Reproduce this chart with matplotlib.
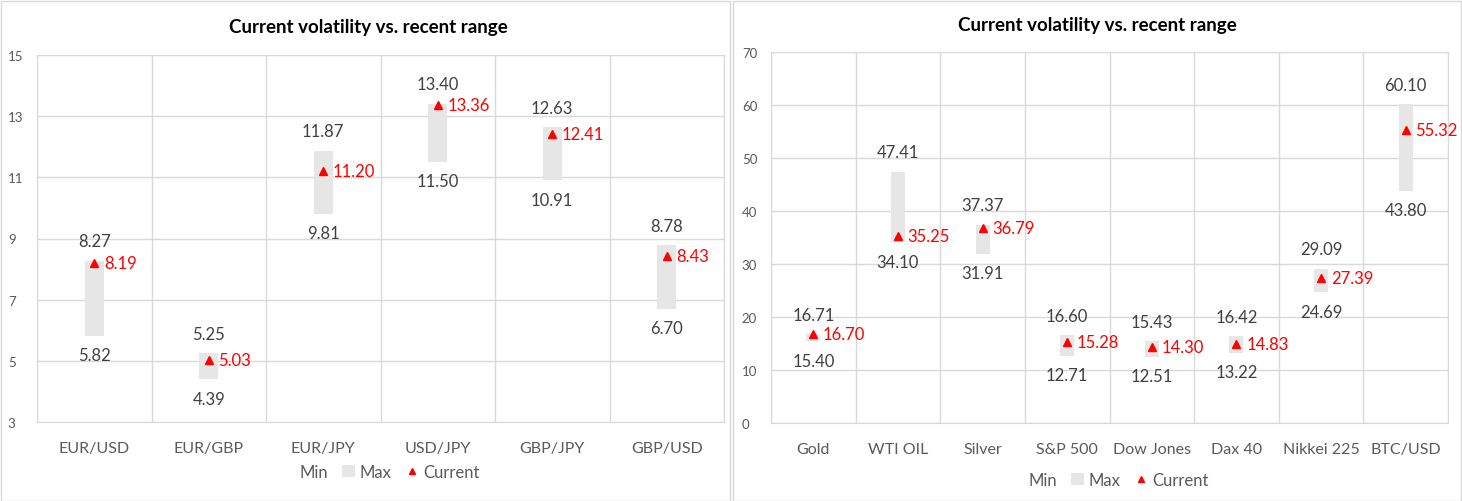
import numpy as np
import matplotlib
matplotlib.use("Agg")
import matplotlib.pyplot as plt
from matplotlib.patches import Patch, Rectangle
from matplotlib.lines import Line2D

plt.rcParams["font.family"] = ["Lato", "DejaVu Sans"]

# levi grafikon - valute
fx_cats = ["EUR/USD", "EUR/GBP", "EUR/JPY", "USD/JPY", "GBP/JPY", "GBP/USD"]
fx_min = [5.82, 4.39, 9.81, 11.50, 10.91, 6.70]
fx_max = [8.27, 5.25, 11.87, 13.40, 12.63, 8.78]
fx_cur = [8.19, 5.03, 11.20, 13.36, 12.41, 8.43]
fx_ticks = [3, 5, 7, 9, 11, 13, 15]

# desni grafikon - robe i indeksi
ot_cats = ["Gold", "WTI OIL", "Silver", "S&P 500", "Dow Jones", "Dax 40", "Nikkei 225", "BTC/USD"]
ot_min = [15.40, 34.10, 31.91, 12.71, 12.51, 13.22, 24.69, 43.80]
ot_max = [16.71, 47.41, 37.37, 16.60, 15.43, 16.42, 29.09, 60.10]
ot_cur = [16.70, 35.25, 36.79, 15.28, 14.30, 14.83, 27.39, 55.32]
ot_ticks = [0, 10, 20, 30, 40, 50, 60, 70]

BAR = "#E6E6E6"
GRID = "#D9D9D9"
TXT = "#404040"
AX_TXT = "#595959"
RED = "#FF0000"

W, H = 1462, 502
fig = plt.figure(figsize=(W / 100, H / 100), dpi=100)


def panel(rect, cats, mins, maxs, curs, ticks, legend_y):
    ax = fig.add_axes(rect)
    n = len(cats)
    x = np.arange(n)
    mins = np.array(mins); maxs = np.array(maxs); curs = np.array(curs)
    ax.bar(x, maxs - mins, bottom=mins, width=0.165, color=BAR, zorder=2)
    ax.plot(x, curs, linestyle="none", marker="^", color=RED, markersize=6, zorder=3)
    for i in range(n):
        ax.annotate(f"{maxs[i]:.2f}", (x[i], maxs[i]), xytext=(0, 14), textcoords="offset points",
                    ha="center", va="center", fontsize=12, color=TXT)
        ax.annotate(f"{mins[i]:.2f}", (x[i], mins[i]), xytext=(0, -14), textcoords="offset points",
                    ha="center", va="center", fontsize=12, color=TXT)
        ax.annotate(f"{curs[i]:.2f}", (x[i], curs[i]), xytext=(7, 0), textcoords="offset points",
                    ha="left", va="center", fontsize=12, color=RED)
    ax.set_xlim(-0.5, n - 0.5)
    ax.set_ylim(ticks[0], ticks[-1])
    ax.set_yticks(ticks)
    ax.set_xticks(x)
    ax.set_xticklabels(cats)
    ax.set_xticks(np.arange(n + 1) - 0.5, minor=True)
    ax.grid(True, axis="y", color=GRID, linewidth=1, zorder=0)
    ax.grid(True, axis="x", which="minor", color=GRID, linewidth=1, zorder=0)
    ax.tick_params(axis="both", which="both", length=0)
    ax.tick_params(axis="x", pad=14, labelsize=11.5, labelcolor=AX_TXT)
    ax.tick_params(axis="y", pad=21, labelsize=9.5, labelcolor=AX_TXT)
    for lab in ax.get_yticklabels():
        lab.set_horizontalalignment("left")
    for s in ax.spines.values():
        s.set_color(GRID)
    handles = [Patch(facecolor="none", edgecolor="none"),
               Patch(facecolor=BAR, edgecolor="none"),
               Line2D([], [], linestyle="none", marker="^", color=RED, markersize=5)]
    ax.legend(handles, ["Min", "Max", "Current"], loc="center", bbox_to_anchor=(0.5, legend_y),
              ncol=3, frameon=False, fontsize=12, labelcolor=AX_TXT, handlelength=0.8,
              handletextpad=0.3, columnspacing=0.8)
    return ax


ax1 = panel([37 / W, 1 - 423 / H, (724 - 37) / W, (423 - 56) / H],
            fx_cats, fx_min, fx_max, fx_cur, fx_ticks, -0.136)
ax2 = panel([771 / W, 1 - 424 / H, (1448 - 771) / W, (424 - 53) / H],
            ot_cats, ot_min, ot_max, ot_cur, ot_ticks, -0.154)

fig.text(368 / W, 1 - 27 / H, "Current volatility vs. recent range", ha="center", va="center",
         fontsize=13.5, fontweight="bold", color="black")
fig.text(1097 / W, 1 - 25 / H, "Current volatility vs. recent range", ha="center", va="center",
         fontsize=13.5, fontweight="bold", color="black")

# okviri oko grafikona
fig.patches.append(Rectangle((0.5 / W, 0.5 / H), 729 / W, 500 / H, transform=fig.transFigure,
                             fill=False, edgecolor=GRID, linewidth=1))
fig.patches.append(Rectangle((733 / W, 0.5 / H), 728 / W, 500 / H, transform=fig.transFigure,
                             fill=False, edgecolor=GRID, linewidth=1))

plt.savefig("out.png", dpi=100)
